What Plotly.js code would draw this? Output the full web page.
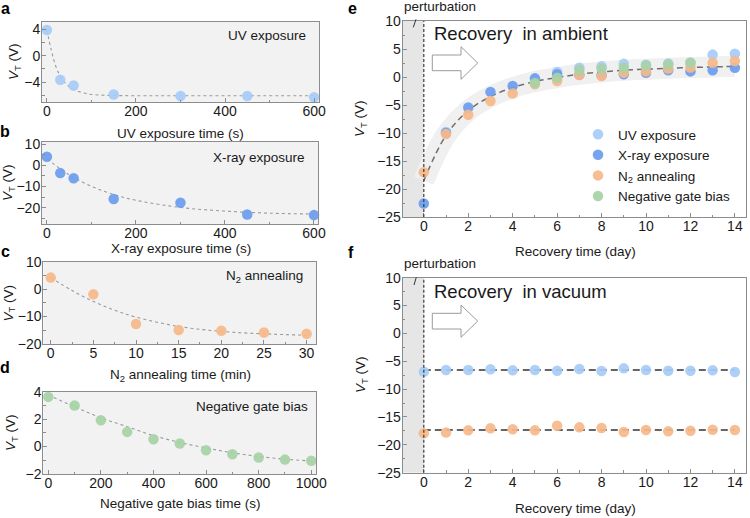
<!DOCTYPE html>
<html>
<head>
<meta charset="utf-8">
<script src="https://cdn.plot.ly/plotly-3.0.1.min.js"></script>
<style>
  html, body { margin: 0; padding: 0; background: #fff; }
  #chart { width: 750px; height: 518px; }
</style>
</head>
<body>
<div id="chart"></div>
<script>
// ---- panel a: UV exposure ----
const uvTime = [0, 30, 60, 150, 300, 450, 600];
const uvVT = [3.9, -3.65, -4.5, -5.86, -6.1, -6.1, -6.3];
const uvFitTime = [0, 10, 20, 30, 45, 60, 90, 120, 150, 200, 300, 450, 600];
const uvFitVT = [3.9, 0.8, -1.6, -3.1, -4.4, -5.1, -5.75, -5.95, -6.02, -6.05, -6.05, -6.05, -6.05];

// ---- panel b: X-ray exposure ----
const xrayTime = [0, 30, 60, 150, 300, 450, 600];
const xrayVT = [4.0, -3.7, -6.1, -15.9, -17.7, -23.2, -23.5];
const xrayFitTime = [0, 50, 100, 150, 200, 300, 400, 500, 600];
const xrayFitVT = [3.0, -4.5, -9.9, -13.8, -16.5, -19.9, -21.6, -22.6, -23.0];

// ---- panel c: N2 annealing ----
const n2Time = [0, 5, 10, 15, 20, 25, 30];
const n2VT = [4.2, -1.9, -12.7, -14.9, -15.2, -15.8, -16.3];
const n2FitTime = [0, 2.5, 5, 7.5, 10, 15, 20, 25, 30];
const n2FitVT = [4.2, -0.5, -4.5, -7.7, -10.2, -13.6, -15.4, -16.3, -16.8];

// ---- panel d: negative gate bias ----
const gateTime = [0, 100, 200, 300, 400, 500, 600, 700, 800, 900, 1000];
const gateVT = [3.62, 2.99, 1.92, 1.07, 0.53, 0.22, -0.27, -0.56, -0.8, -0.95, -1.04];
const gateFitVT = [3.76, 2.9, 2.1, 1.45, 0.8, 0.3, -0.1, -0.45, -0.72, -0.92, -1.05];

// ---- panel e: recovery in ambient ----
const ambUvDay = [1, 6, 7, 8, 9, 10, 11, 12, 13, 14];
const ambUvVT = [-9.8, 0.9, 1.66, 1.9, 2.35, 2.2, 2.4, 2.5, 4.0, 4.15];
const ambXrayDay = [0, 1, 2, 3, 4, 5, 6, 7, 8, 9, 10, 11, 12, 13, 14];
const ambXrayVT = [-22.6, -10.0, -5.45, -2.66, -1.6, -0.24, 0.5, 0.4, 0.3, 0.47, 0.77, 1.2, 1.0, 1.2, 1.66];
const ambN2Day = [0, 1, 2, 3, 4, 5, 6, 7, 8, 9, 10, 11, 12, 13, 14];
const ambN2VT = [-17.0, -10.2, -6.75, -4.3, -2.96, -1.3, -0.7, 0.36, 0.17, 0.77, 1.0, 1.5, 1.7, 2.55, 2.85];
const ambGateDay = [5, 6, 7, 8, 9, 10, 11, 12];
const ambGateVT = [-1.07, -0.12, 1.24, 1.5, 1.66, 2.07, 2.25, 2.6];
const ambFitDay = [0, 1, 2, 3, 4, 5, 6, 7, 8, 9, 10, 11, 12, 13, 14];
const ambFitVT = [-18.5, -10.4, -6.0, -3.5, -1.9, -0.8, -0.1, 0.5, 0.9, 1.2, 1.4, 1.55, 1.7, 1.8, 1.9];

// ---- panel f: recovery in vacuum ----
const vacDay = [0, 1, 2, 3, 4, 5, 6, 7, 8, 9, 10, 11, 12, 13, 14];
const vacUvVT = [-6.87, -6.57, -6.57, -6.45, -6.63, -6.57, -6.69, -6.39, -6.75, -6.27, -6.57, -6.69, -6.69, -6.63, -6.93];
const vacN2VT = [-17.94, -17.8, -17.4, -17.04, -17.2, -17.4, -16.56, -16.86, -16.98, -17.7, -17.34, -17.58, -17.46, -17.28, -17.34];
const vacLevelDay = [0, 14];
const vacUvLevel = [-6.57, -6.57];
const vacN2Level = [-17.34, -17.34];

// ---- labels ----
const seriesNames = ['UV exposure', 'X-ray exposure', 'N<sub>2</sub> annealing', 'Negative gate bias'];
const xTitles = ['UV exposure time (s)', 'X-ray exposure time (s)', 'N<sub>2</sub> annealing time (min)',
                 'Negative gate bias time (s)', 'Recovery time (day)', 'Recovery time (day)'];
const yTitle = '<i>V</i><sub>T</sub> (V)';

// ---- styling ----
const FONT = 'Arial, "Liberation Sans", sans-serif';
const W = 750, H = 518;
const uvColor = 'rgb(166,203,247)';
const xrayColor = 'rgb(106,156,238)';
const n2Color = 'rgb(247,185,138)';
const gateColor = 'rgb(166,210,166)';
const MS = 10.5;

const px = x => x / W;
const py = y => 1 - y / H;
const xdom = (a, b) => [px(a), px(b)];
const ydom = (top, bot) => [py(bot), py(top)];

function marks(x, y, color, xa, ya, name, legend) {
  return {
    type: 'scatter', mode: 'markers', x: x, y: y, xaxis: xa, yaxis: ya,
    name: name, showlegend: !!legend, cliponaxis: false,
    marker: { color: color, size: MS, opacity: 0.92, line: { width: 0 } },
    hoverinfo: 'skip'
  };
}
function fit(x, y, xa, ya, color, width, dash) {
  return {
    type: 'scatter', mode: 'lines', x: x, y: y, xaxis: xa, yaxis: ya,
    showlegend: false, hoverinfo: 'skip',
    line: { color: color, width: width, dash: dash, shape: 'spline', smoothing: 1 }
  };
}

const smallFit = ['#9a9a9a', 1.1, '3px,3px'];

const traces = [
  fit(uvFitTime, uvFitVT, 'x', 'y', ...smallFit),
  marks(uvTime, uvVT, uvColor, 'x', 'y', seriesNames[0]),
  fit(xrayFitTime, xrayFitVT, 'x2', 'y2', ...smallFit),
  marks(xrayTime, xrayVT, xrayColor, 'x2', 'y2', seriesNames[1]),
  fit(n2FitTime, n2FitVT, 'x3', 'y3', ...smallFit),
  marks(n2Time, n2VT, n2Color, 'x3', 'y3', seriesNames[2]),
  fit(gateTime, gateFitVT, 'x4', 'y4', ...smallFit),
  marks(gateTime, gateVT, gateColor, 'x4', 'y4', seriesNames[3]),

  // ambient recovery: shaded guide band, fitted trend, data
  { type: 'scatter', mode: 'lines', x: ambFitDay, y: ambFitVT, xaxis: 'x5', yaxis: 'y5',
    showlegend: false, hoverinfo: 'skip',
    line: { color: '#f0f0f0', width: 21, shape: 'spline', smoothing: 1 } },
  fit(ambFitDay, ambFitVT, 'x5', 'y5', '#707070', 1.5, '6px,4px'),
  marks(ambUvDay, ambUvVT, uvColor, 'x5', 'y5', seriesNames[0], true),
  marks(ambXrayDay, ambXrayVT, xrayColor, 'x5', 'y5', seriesNames[1], true),
  marks(ambN2Day, ambN2VT, n2Color, 'x5', 'y5', seriesNames[2], true),
  marks(ambGateDay, ambGateVT, gateColor, 'x5', 'y5', seriesNames[3], true),

  // vacuum recovery
  fit(vacLevelDay, vacUvLevel, 'x6', 'y6', '#333333', 1.5, '7px,4px'),
  fit(vacLevelDay, vacN2Level, 'x6', 'y6', '#333333', 1.5, '7px,4px'),
  marks(vacDay, vacUvVT, uvColor, 'x6', 'y6', seriesNames[0]),
  marks(vacDay, vacN2VT, n2Color, 'x6', 'y6', seriesNames[2])
];

function axis(domain, range, dtick, minorDtick, anchor, isX) {
  return {
    domain: domain, range: range, anchor: anchor,
    dtick: dtick, tick0: 0,
    showline: true, mirror: true, linecolor: '#8c8c8c', linewidth: 1,
    ticks: 'inside', ticklen: 4, tickcolor: '#8c8c8c', tickwidth: 1,
    ticklabelstandoff: isX ? -4 : -2,
    minor: { dtick: minorDtick, ticks: 'inside', ticklen: 2.5, tickcolor: '#8c8c8c', tick0: 0 },
    showgrid: false, zeroline: false,
    tickfont: { family: FONT, size: 14, color: '#1a1a1a' },
    fixedrange: true
  };
}

const layout = {
  width: W, height: H,
  margin: { l: 0, r: 0, t: 0, b: 0 },
  paper_bgcolor: '#ffffff',
  plot_bgcolor: '#f2f2f2',
  font: { family: FONT, size: 13.5, color: '#1a1a1a' },
  showlegend: true,
  legend: {
    x: px(578), xanchor: 'left', y: py(119), yanchor: 'top',
    bgcolor: 'rgba(0,0,0,0)', borderwidth: 0,
    font: { family: FONT, size: 13.5, color: '#1a1a1a' },
    tracegroupgap: 0, itemwidth: 30
  },

  xaxis:  axis(xdom(42, 319), [-11, 611], 200, 100, 'y', true),
  yaxis:  axis(ydom(22, 102), [-7.0, 5.1], 4, 2, 'x'),
  xaxis2: axis(xdom(42, 318), [-11, 609], 200, 100, 'y2', true),
  yaxis2: axis(ydom(141.7, 224), [-27.7, 11.1], 10, 5, 'x2'),
  xaxis3: axis(xdom(43.3, 316), [-0.87, 31.1], 5, 2.5, 'y3', true),
  yaxis3: axis(ydom(261.7, 344), [-20, 10], 10, 5, 'x3'),
  xaxis4: axis(xdom(43.3, 316), [-19, 1018], 200, 100, 'y4', true),
  yaxis4: axis(ydom(391.7, 474), [-2, 4], 2, 1, 'x4'),
  xaxis5: axis(xdom(402.7, 746), [-0.95, 14.5], 2, 1, 'y5', true),
  yaxis5: axis(ydom(21, 217), [-25, 10], 5, 2.5, 'x5'),
  xaxis6: axis(xdom(402.7, 746), [-0.95, 14.5], 2, 1, 'y6', true),
  yaxis6: axis(ydom(277.7, 472.7), [-25, 10], 5, 2.5, 'x6'),

  shapes: [],
  annotations: []
};

// white plot areas for the recovery panels (drawn over the shared grey background)
const sh = layout.shapes;
[['x5', 'y5'], ['x6', 'y6']].forEach(([xa, ya]) => {
  sh.push({ type: 'rect', xref: xa + ' domain', yref: ya + ' domain', x0: 0, x1: 1, y0: 0, y1: 1,
            fillcolor: '#ffffff', line: { width: 0 }, layer: 'below' });
  sh.push({ type: 'rect', xref: xa, yref: ya, x0: -0.95, x1: 0, y0: -25, y1: 10,
            fillcolor: '#e6e6e6', line: { width: 0 }, layer: 'below' });
  sh.push({ type: 'line', xref: xa, yref: ya, x0: 0, x1: 0, y0: -25, y1: 10,
            line: { color: '#3a3a3a', width: 1.2, dash: '3px,2px' }, layer: 'above' });
});

// hollow arrows
function arrowPath(left, bodyTop, bodyBot, headX, headTop, headBot, tipX) {
  const mid = (headTop + headBot) / 2;
  const pts = [[left, bodyTop], [headX, bodyTop], [headX, headTop], [tipX, mid],
               [headX, headBot], [headX, bodyBot], [left, bodyBot]];
  return 'M ' + pts.map(p => px(p[0]).toFixed(5) + ',' + py(p[1]).toFixed(5)).join(' L ') + ' Z';
}
sh.push({ type: 'path', xref: 'paper', yref: 'paper',
          path: arrowPath(432.3, 55, 70.7, 461, 46.7, 79.3, 477.7),
          fillcolor: '#ffffff', line: { color: '#9a9a9a', width: 1 } });
sh.push({ type: 'path', xref: 'paper', yref: 'paper',
          path: arrowPath(432.3, 313.3, 329, 461, 305, 337.3, 477.7),
          fillcolor: '#ffffff', line: { color: '#9a9a9a', width: 1 } });

// pointer strokes under the "perturbation" labels
sh.push({ type: 'line', xref: 'paper', yref: 'paper', x0: px(413.3), y0: py(27.3), x1: px(416), y1: py(19.3),
          line: { color: '#333', width: 1 } });
sh.push({ type: 'line', xref: 'paper', yref: 'paper', x0: px(414), y0: py(285), x1: px(416.3), y1: py(277.3),
          line: { color: '#333', width: 1 } });

const an = layout.annotations;
function text(t, x, y, opts) {
  an.push(Object.assign({
    text: t, xref: 'paper', yref: 'paper', x: px(x), y: py(y),
    xanchor: 'center', yanchor: 'middle', showarrow: false,
    font: { family: FONT, size: 13.5, color: '#1a1a1a' }
  }, opts || {}));
}

// panel letters
const letterFont = { family: FONT, size: 16, color: '#000', weight: 'bold' };
[['a', 5, 9], ['b', 5, 131], ['c', 5, 251], ['d', 5, 367], ['e', 352, 9], ['f', 351, 252]]
  .forEach(([t, x, y]) => text('<b>' + t + '</b>', x, y, { font: letterFont }));

// inner labels
text(seriesNames[0], 308, 36, { xanchor: 'right' });
text(seriesNames[1], 307, 157.7, { xanchor: 'right' });
text(seriesNames[2], 305, 276, { xanchor: 'right' });
text(seriesNames[3], 310, 406.7, { xanchor: 'right' });

// axis titles
text(xTitles[0], 180.5, 133);
text(xTitles[1], 180.5, 248.3);
text(xTitles[2], 180.5, 375.5);
text(xTitles[3], 180.5, 503);
text(xTitles[4], 575, 251);
text(xTitles[5], 575, 508);

text(yTitle, 15, 62, { textangle: -90 });
text(yTitle, 8, 183, { textangle: -90 });
text(yTitle, 8.5, 303, { textangle: -90 });
text(yTitle, 11, 433, { textangle: -90 });
text(yTitle, 361, 119, { textangle: -90 });
text(yTitle, 361, 375, { textangle: -90 });

// recovery panel headings
const headFont = { family: FONT, size: 18.5, color: '#1a1a1a' };
text('perturbation', 440, 7);
text('perturbation', 440, 263);
text('Recovery  in ambient', 432.3, 33.5, { xanchor: 'left', font: headFont });
text('Recovery  in vacuum', 432.3, 291.7, { xanchor: 'left', font: headFont });

Plotly.newPlot('chart', traces, layout, { staticPlot: true, displayModeBar: false });
</script>
</body>
</html>
